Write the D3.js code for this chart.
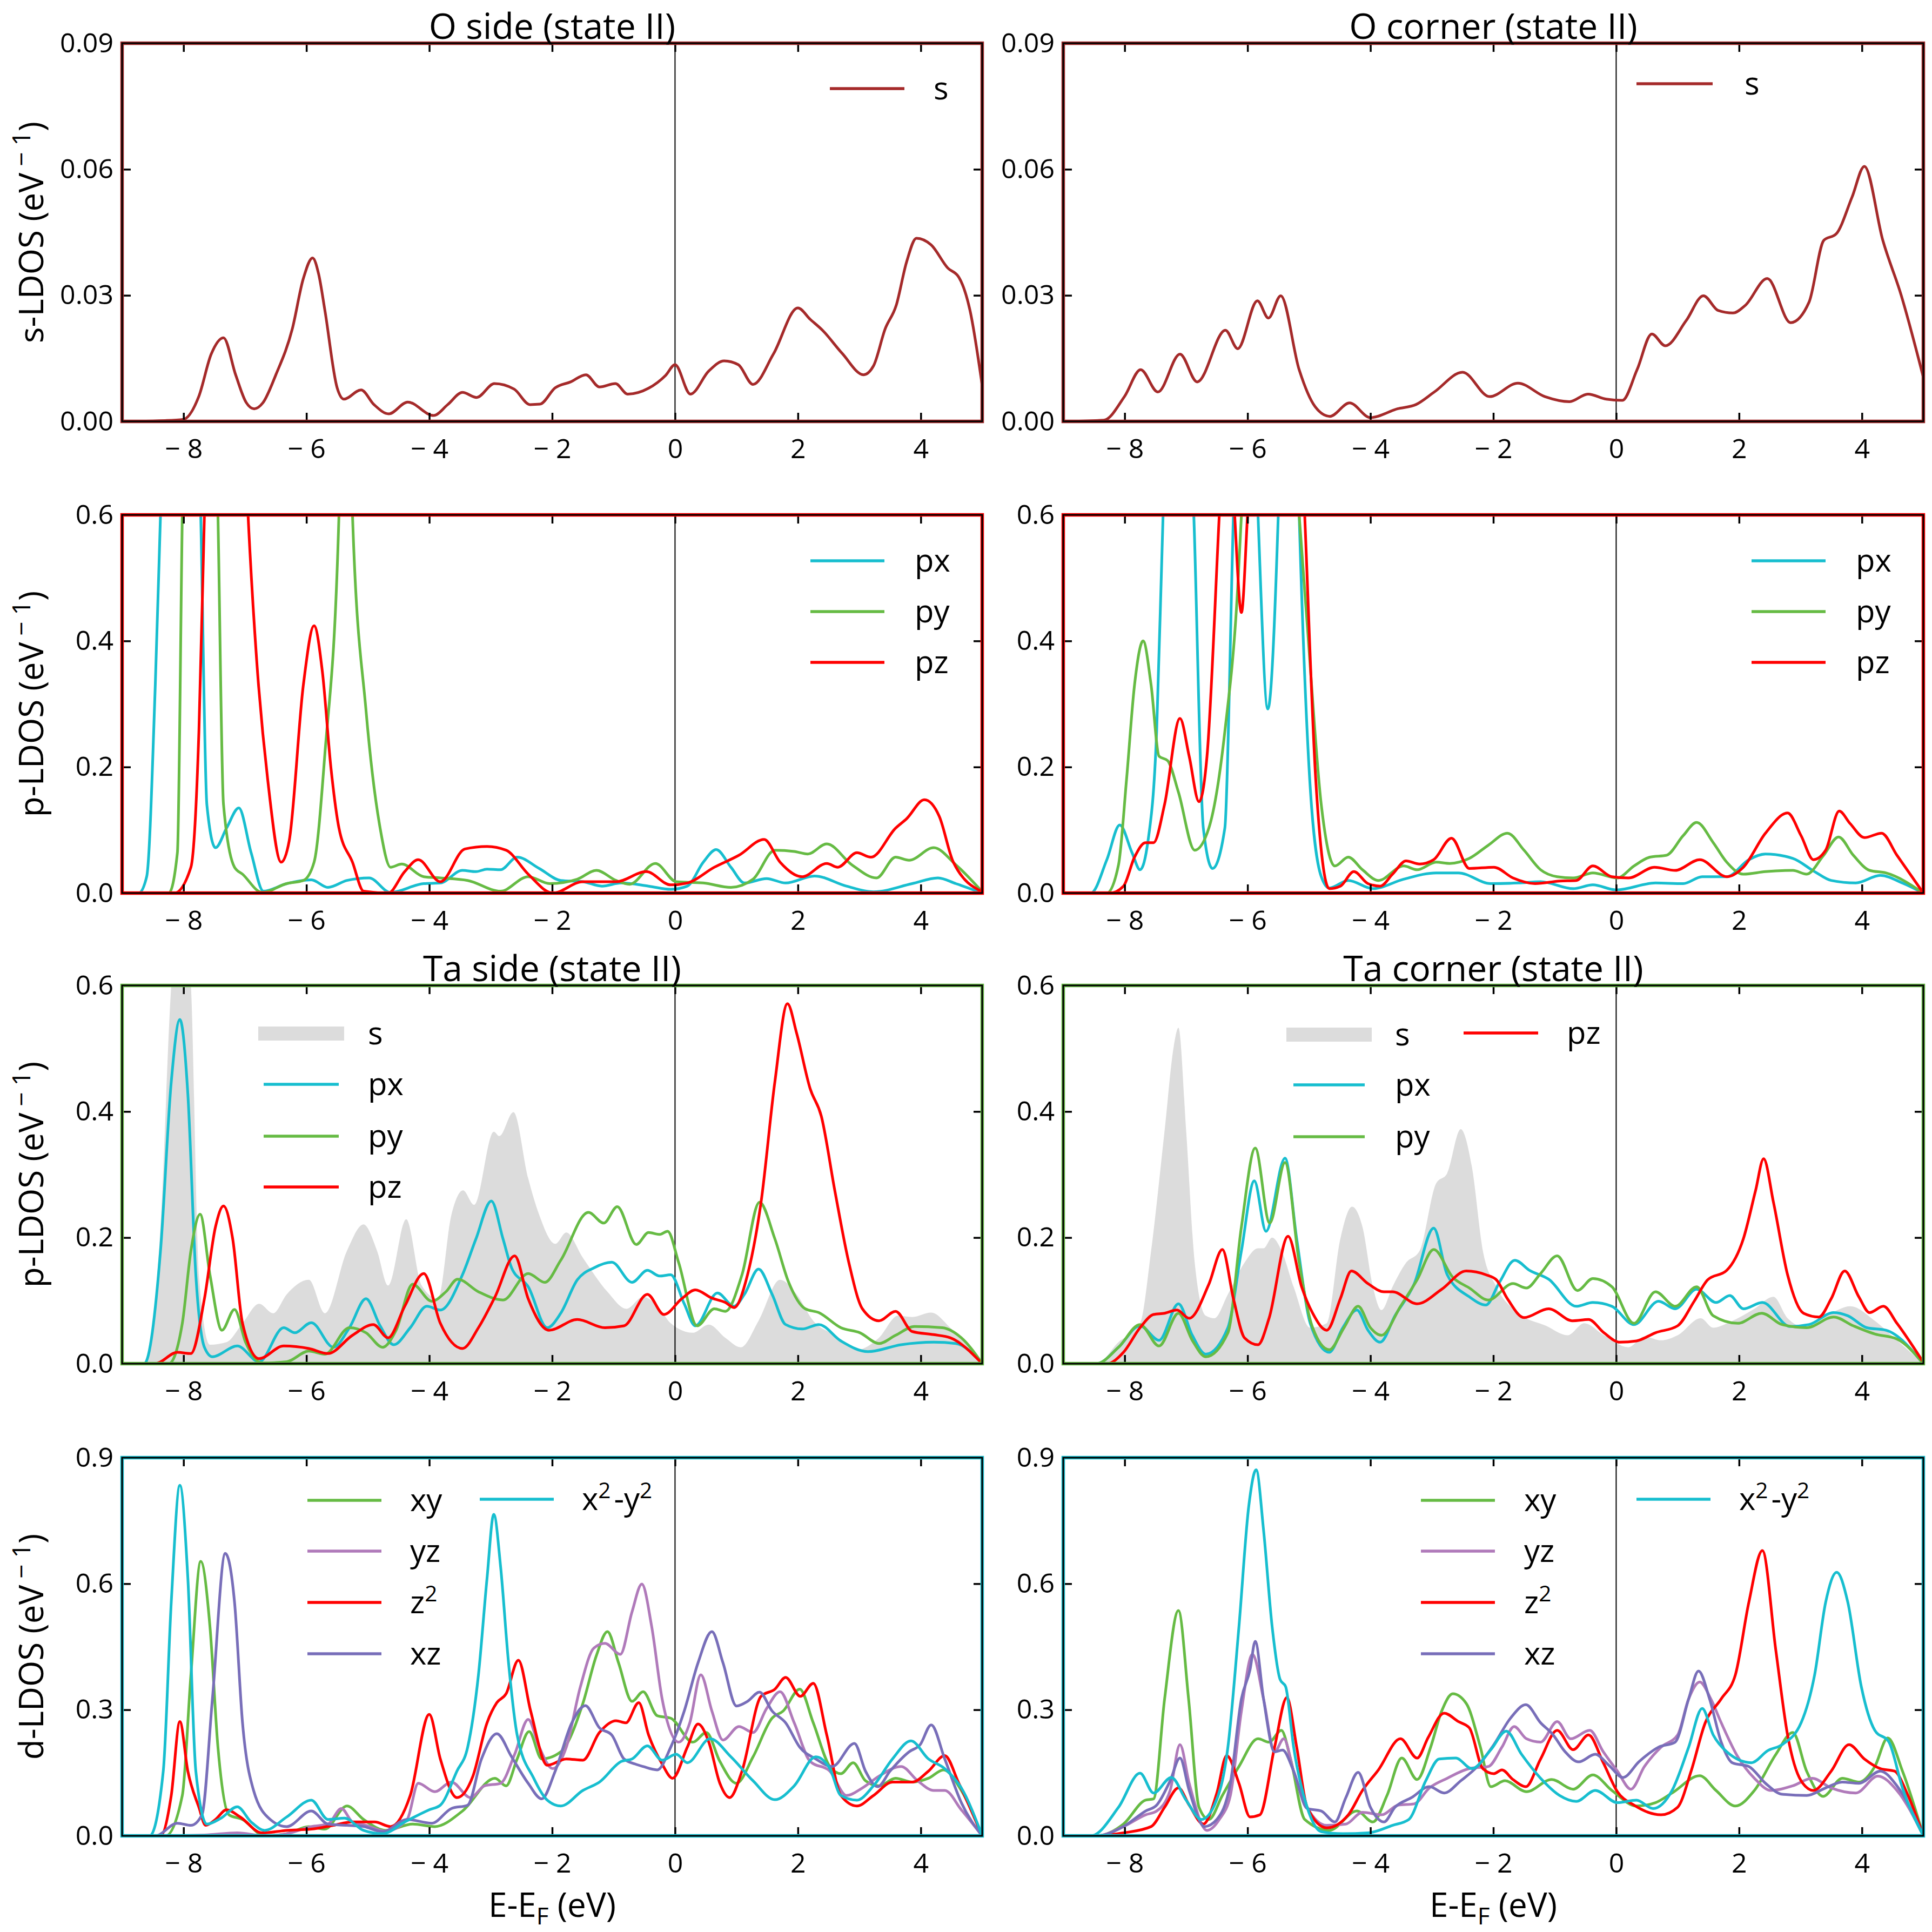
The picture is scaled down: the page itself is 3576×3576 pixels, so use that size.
<!DOCTYPE html>
<html>
<head>
<meta charset="utf-8">
<script src="https://cdn.jsdelivr.net/npm/d3@7"></script>
<style>
  body { margin: 0; background: #fff; }
  text { font-family: "Open Sans", "DejaVu Sans", sans-serif; fill: #000; }
</style>
</head>
<body>
<svg id="chart" width="3576" height="3576"></svg>
<script>
// ---- data: [energy (eV), LDOS] ----
const oSideS = [[-9,0],[-8.3,0.0002],[-8,0.0005],[-7.75,0.006],[-7.55,0.016],[-7.35,0.0199],[-7.15,0.011],[-6.98,0.0045],[-6.85,0.003],[-6.71,0.0044],[-6.5,0.011],[-6.23,0.022],[-6.05,0.034],[-5.9,0.0389],[-5.8,0.035],[-5.7,0.0265],[-5.5,0.008],[-5.39,0.0053],[-5.11,0.0075],[-4.9,0.004],[-4.66,0.0018],[-4.35,0.0046],[-3.93,0.0014],[-3.7,0.004],[-3.46,0.0069],[-3.23,0.0057],[-2.94,0.009],[-2.62,0.0077],[-2.36,0.004],[-2.2,0.0041],[-1.95,0.008],[-1.7,0.0094],[-1.45,0.0111],[-1.23,0.0082],[-0.97,0.009],[-0.77,0.0065],[-0.43,0.0079],[-0.15,0.011],[0,0.0135],[0.25,0.0065],[0.55,0.012],[0.8,0.0144],[1.03,0.0135],[1.27,0.0088],[1.6,0.016],[2.0,0.027],[2.2,0.0243],[2.4,0.0217],[2.72,0.0162],[3.07,0.0111],[3.23,0.0132],[3.42,0.022],[3.6,0.0276],[3.77,0.038],[3.93,0.0436],[4.17,0.042],[4.44,0.0365],[4.62,0.0343],[4.8,0.0265],[5,0.0085]];
const oCornerS = [[-9,0],[-8.34,0.0003],[-8.0,0.006],[-7.74,0.0123],[-7.46,0.007],[-7.1,0.016],[-6.82,0.0094],[-6.36,0.0217],[-6.16,0.0173],[-5.84,0.0287],[-5.66,0.0246],[-5.46,0.0299],[-5.16,0.0123],[-4.9,0.0035],[-4.66,0.0012],[-4.34,0.0044],[-4.0,0.0009],[-3.56,0.003],[-3.26,0.004],[-2.96,0.007],[-2.5,0.0117],[-2.06,0.0059],[-1.6,0.0091],[-1.16,0.0059],[-0.76,0.0047],[-0.46,0.0065],[-0.16,0.0053],[0.1,0.005],[0.34,0.0123],[0.58,0.0208],[0.8,0.018],[1.14,0.024],[1.42,0.0299],[1.66,0.0264],[1.9,0.0258],[2.1,0.0276],[2.46,0.034],[2.84,0.0235],[3.14,0.0284],[3.38,0.0431],[3.58,0.0446],[3.84,0.0534],[4.04,0.0607],[4.34,0.0431],[4.64,0.03],[5,0.0105]];

const oSidePx = [[-9,0],[-8.73,0],[-8.6,0.026],[-8.46,0.33],[-8.375,0.6],[-8.05,1.6],[-7.72,0.6],[-7.62,0.14],[-7.48,0.072],[-7.3,0.103],[-7.1,0.135],[-6.9,0.064],[-6.7,0.003],[-6.32,0.015],[-5.92,0.021],[-5.65,0.009],[-5.34,0.02],[-4.98,0.024],[-4.63,0.001],[-4.09,0.015],[-3.82,0.016],[-3.46,0.036],[-3.24,0.034],[-3.06,0.038],[-2.84,0.037],[-2.57,0.057],[-2.21,0.039],[-1.86,0.02],[-1.5,0.018],[-1.19,0.011],[-0.875,0.016],[-0.43,0.011],[-0.07,0.006],[0.2,0.011],[0.46,0.049],[0.67,0.069],[0.91,0.041],[1.13,0.016],[1.49,0.023],[1.8,0.016],[2.27,0.027],[2.79,0.011],[3.23,0.002],[3.86,0.015],[4.28,0.024],[4.57,0.015],[5,0]];
const oSidePy = [[-9,0],[-8.24,0],[-8.1,0.064],[-8.02,0.6],[-7.72,1.6],[-7.44,0.6],[-7.35,0.141],[-7.17,0.041],[-7.04,0.03],[-6.72,0.001],[-6.32,0.015],[-6.05,0.02],[-5.875,0.049],[-5.7,0.22],[-5.47,0.6],[-5.35,1.2],[-5.25,0.6],[-5.03,0.29],[-4.8,0.103],[-4.63,0.041],[-4.45,0.046],[-4.09,0.026],[-3.82,0.024],[-3.375,0.02],[-2.84,0.003],[-2.39,0.026],[-2.04,0.015],[-1.59,0.022],[-1.28,0.036],[-0.96,0.02],[-0.74,0.014],[-0.32,0.047],[0.02,0.018],[0.46,0.016],[0.91,0.009],[1.27,0.022],[1.625,0.068],[1.94,0.066],[2.16,0.062],[2.47,0.078],[2.875,0.045],[3.28,0.024],[3.59,0.057],[3.81,0.052],[4.21,0.072],[4.57,0.045],[5,0.002]];
const oSidePz = [[-9,0],[-8.15,0],[-7.88,0.041],[-7.75,0.256],[-7.66,0.6],[-7.3,1.6],[-6.95,0.6],[-6.81,0.37],[-6.63,0.18],[-6.41,0.049],[-6.28,0.083],[-6.05,0.33],[-5.875,0.424],[-5.74,0.351],[-5.6,0.198],[-5.47,0.103],[-5.25,0.049],[-5.07,0.003],[-4.67,0],[-4.4,0.034],[-4.18,0.053],[-3.82,0.018],[-3.42,0.07],[-3.06,0.074],[-2.75,0.068],[-2.39,0.03],[-1.99,0],[-1.5,0.018],[-0.96,0.018],[-0.47,0.034],[-0.07,0.013],[0.2,0.016],[0.64,0.041],[1.04,0.06],[1.45,0.085],[1.71,0.049],[2.07,0.026],[2.47,0.047],[2.65,0.041],[2.96,0.064],[3.19,0.057],[3.59,0.103],[3.77,0.118],[4.06,0.148],[4.3,0.122],[4.53,0.049],[5,0.002]];

const oCornerPx = [[-9,0],[-8.55,0],[-8.29,0.053],[-8.08,0.108],[-7.88,0.064],[-7.75,0.037],[-7.62,0.083],[-7.48,0.256],[-7.375,0.6],[-7.1,1.1],[-6.875,0.6],[-6.72,0.103],[-6.57,0.039],[-6.37,0.103],[-6.23,0.6],[-6.02,1.2],[-5.83,0.6],[-5.67,0.292],[-5.5,0.6],[-5.33,1.3],[-5.16,0.6],[-5.0,0.2],[-4.8,0.026],[-4.67,0.008],[-4.36,0.02],[-3.96,0.007],[-3.46,0.022],[-2.93,0.032],[-2.57,0.032],[-2.04,0.015],[-1.59,0.016],[-1.23,0.018],[-0.7,0.007],[-0.38,0.013],[0,0.005],[0.64,0.016],[1.09,0.015],[1.4,0.026],[1.8,0.026],[2.16,0.053],[2.43,0.062],[2.875,0.055],[3.23,0.034],[3.5,0.02],[3.9,0.016],[4.3,0.028],[4.66,0.016],[5,0]];
const oCornerPy = [[-9,0],[-8.29,0],[-8.1,0.045],[-7.97,0.18],[-7.84,0.33],[-7.7,0.4],[-7.57,0.33],[-7.44,0.217],[-7.3,0.21],[-7.125,0.16],[-6.86,0.068],[-6.63,0.103],[-6.37,0.256],[-6.16,0.485],[-6.1,0.6],[-5.65,1.5],[-5.16,0.6],[-5.03,0.428],[-4.8,0.14],[-4.58,0.043],[-4.36,0.057],[-4.13,0.037],[-3.87,0.02],[-3.46,0.043],[-3.24,0.037],[-2.93,0.049],[-2.71,0.047],[-2.39,0.055],[-2.08,0.076],[-1.77,0.095],[-1.5,0.068],[-1.23,0.037],[-0.96,0.026],[-0.7,0.024],[-0.38,0.032],[0.02,0.024],[0.29,0.043],[0.55,0.057],[0.82,0.06],[1.09,0.091],[1.31,0.112],[1.58,0.08],[1.8,0.049],[2.07,0.03],[2.43,0.034],[2.875,0.036],[3.1,0.03],[3.37,0.059],[3.62,0.089],[3.86,0.06],[4.125,0.036],[4.39,0.032],[5,0]];
const oCornerPz = [[-9,0],[-8.24,0],[-8.02,0.011],[-7.84,0.057],[-7.66,0.08],[-7.53,0.08],[-7.35,0.141],[-7.1,0.277],[-6.95,0.217],[-6.79,0.145],[-6.66,0.217],[-6.46,0.6],[-6.33,0.85],[-6.21,0.6],[-6.1,0.445],[-6.0,0.6],[-5.5,1.6],[-5.07,0.6],[-4.89,0.18],[-4.67,0.007],[-4.49,0.011],[-4.27,0.034],[-4.04,0.015],[-3.84,0.011],[-3.64,0.03],[-3.42,0.051],[-3.2,0.046],[-2.97,0.053],[-2.68,0.087],[-2.39,0.039],[-1.99,0.041],[-1.68,0.024],[-1.32,0.015],[-0.92,0.019],[-0.65,0.02],[-0.38,0.043],[-0.07,0.026],[0.2,0.024],[0.625,0.041],[0.96,0.036],[1.36,0.053],[1.8,0.026],[2.07,0.041],[2.43,0.095],[2.79,0.127],[3.01,0.091],[3.21,0.053],[3.41,0.068],[3.63,0.13],[3.81,0.11],[4.04,0.088],[4.32,0.095],[4.57,0.06],[5,0]];

const taSideS = [[-9,0],[-8.64,0],[-8.375,0.217],[-8.2,0.6],[-8.05,0.75],[-7.88,0.6],[-7.75,0.14],[-7.57,0.03],[-7.3,0.034],[-7.04,0.064],[-6.77,0.095],[-6.54,0.08],[-6.32,0.11],[-5.96,0.133],[-5.7,0.08],[-5.34,0.179],[-5.07,0.221],[-4.85,0.179],[-4.67,0.124],[-4.375,0.229],[-4.13,0.125],[-3.86,0.103],[-3.64,0.236],[-3.45,0.275],[-3.27,0.252],[-2.95,0.368],[-2.86,0.361],[-2.63,0.399],[-2.39,0.294],[-2.21,0.236],[-1.95,0.19],[-1.77,0.208],[-1.5,0.168],[-1.1,0.114],[-0.79,0.087],[-0.52,0.106],[-0.25,0.087],[-0.07,0.064],[0.29,0.049],[0.55,0.062],[0.82,0.041],[1.07,0.026],[1.36,0.068],[1.71,0.133],[1.98,0.11],[2.25,0.068],[2.6,0.045],[2.96,0.022],[3.32,0.041],[3.63,0.076],[3.86,0.074],[4.17,0.081],[4.48,0.057],[5,0]];
const taSidePx = [[-9,0],[-8.64,0],[-8.375,0.179],[-8.2,0.447],[-8.06,0.546],[-7.93,0.428],[-7.8,0.141],[-7.66,0.026],[-7.53,0.011],[-7.125,0.028],[-6.77,0.003],[-6.37,0.057],[-6.19,0.049],[-5.92,0.065],[-5.56,0.026],[-5.3,0.057],[-5.03,0.103],[-4.8,0.06],[-4.58,0.03],[-4.31,0.057],[-4.04,0.091],[-3.82,0.085],[-3.46,0.141],[-3.24,0.198],[-2.99,0.258],[-2.8,0.198],[-2.66,0.152],[-2.39,0.122],[-2.08,0.057],[-1.86,0.08],[-1.59,0.133],[-1.32,0.152],[-1.03,0.161],[-0.7,0.129],[-0.45,0.148],[-0.25,0.139],[-0.07,0.141],[0.15,0.095],[0.33,0.06],[0.69,0.112],[0.96,0.091],[1.13,0.11],[1.36,0.15],[1.58,0.11],[1.8,0.062],[2.07,0.055],[2.34,0.062],[2.7,0.036],[3.14,0.019],[3.68,0.03],[4.21,0.034],[4.57,0.032],[5,0]];
const taSidePy = [[-9,0],[-8.24,0],[-8.02,0.064],[-7.88,0.179],[-7.73,0.237],[-7.57,0.141],[-7.375,0.053],[-7.17,0.086],[-6.99,0.034],[-6.72,0.001],[-6.32,0.003],[-5.96,0.02],[-5.7,0.015],[-5.3,0.057],[-5.03,0.049],[-4.76,0.026],[-4.54,0.053],[-4.27,0.126],[-3.96,0.099],[-3.73,0.114],[-3.54,0.134],[-3.2,0.114],[-2.8,0.101],[-2.39,0.143],[-2.12,0.129],[-1.86,0.164],[-1.41,0.24],[-1.16,0.223],[-0.94,0.249],[-0.63,0.189],[-0.43,0.208],[-0.25,0.205],[-0.12,0.21],[0.06,0.16],[0.36,0.06],[0.64,0.087],[0.82,0.083],[1.09,0.141],[1.375,0.256],[1.625,0.198],[1.85,0.129],[2.12,0.087],[2.34,0.081],[2.7,0.057],[3.01,0.049],[3.32,0.032],[3.59,0.045],[3.9,0.059],[4.35,0.057],[4.66,0.041],[5,0]];
const taSidePz = [[-9,0],[-8.46,0],[-8.1,0.018],[-7.88,0.016],[-7.66,0.103],[-7.48,0.217],[-7.35,0.25],[-7.2,0.198],[-7.04,0.064],[-6.77,0.008],[-6.37,0.028],[-5.96,0.024],[-5.65,0.016],[-5.25,0.045],[-4.91,0.062],[-4.67,0.041],[-4.4,0.091],[-4.09,0.143],[-3.82,0.064],[-3.46,0.024],[-3.2,0.057],[-2.93,0.106],[-2.61,0.171],[-2.39,0.103],[-2.05,0.053],[-1.59,0.07],[-1.14,0.057],[-0.83,0.06],[-0.45,0.11],[-0.18,0.078],[0.11,0.103],[0.33,0.117],[0.6,0.104],[0.82,0.097],[0.96,0.089],[1.18,0.141],[1.4,0.256],[1.625,0.447],[1.83,0.571],[1.98,0.524],[2.2,0.436],[2.38,0.393],[2.6,0.275],[2.83,0.16],[3.05,0.087],[3.32,0.068],[3.59,0.083],[3.86,0.051],[4.21,0.046],[4.48,0.041],[5,0]];

const taCornerS = [[-9,0],[-8.46,0],[-8.1,0.034],[-7.75,0.064],[-7.57,0.179],[-7.35,0.37],[-7.2,0.504],[-7.125,0.533],[-7.0,0.37],[-6.86,0.16],[-6.68,0.076],[-6.54,0.072],[-6.32,0.11],[-6.05,0.16],[-5.83,0.183],[-5.74,0.183],[-5.6,0.2],[-5.45,0.18],[-5.25,0.122],[-4.98,0.057],[-4.71,0.064],[-4.49,0.198],[-4.3,0.249],[-4.13,0.217],[-3.96,0.122],[-3.82,0.085],[-3.64,0.122],[-3.42,0.16],[-3.2,0.179],[-2.93,0.286],[-2.75,0.302],[-2.53,0.372],[-2.35,0.313],[-2.17,0.179],[-1.95,0.122],[-1.59,0.08],[-1.14,0.06],[-0.79,0.045],[-0.52,0.064],[-0.2,0.045],[0.2,0.026],[0.46,0.043],[0.73,0.037],[1.0,0.045],[1.375,0.072],[1.58,0.057],[1.85,0.066],[2.25,0.087],[2.56,0.106],[2.79,0.072],[3.1,0.057],[3.5,0.08],[3.81,0.091],[4.21,0.068],[4.57,0.037],[5,0]];
const taCornerPx = [[-9,0],[-8.46,0],[-8.1,0.026],[-7.75,0.06],[-7.44,0.037],[-7.125,0.095],[-6.9,0.045],[-6.68,0.015],[-6.32,0.057],[-6.1,0.179],[-5.89,0.29],[-5.7,0.21],[-5.39,0.326],[-5.2,0.198],[-4.98,0.064],[-4.67,0.018],[-4.45,0.057],[-4.22,0.085],[-4.04,0.053],[-3.84,0.034],[-3.6,0.076],[-3.29,0.126],[-2.97,0.215],[-2.75,0.141],[-2.39,0.106],[-2.12,0.093],[-1.9,0.129],[-1.65,0.164],[-1.41,0.148],[-1.1,0.134],[-0.65,0.091],[-0.38,0.097],[-0.07,0.091],[0.29,0.062],[0.69,0.099],[0.96,0.087],[1.31,0.118],[1.625,0.097],[1.85,0.108],[2.07,0.087],[2.38,0.097],[2.83,0.059],[3.14,0.062],[3.54,0.081],[3.77,0.076],[4.08,0.057],[4.39,0.053],[5,0]];
const taCornerPy = [[-9,0],[-8.46,0],[-8.1,0.026],[-7.75,0.062],[-7.44,0.028],[-7.125,0.08],[-6.9,0.037],[-6.68,0.011],[-6.32,0.049],[-6.1,0.217],[-5.875,0.342],[-5.64,0.223],[-5.39,0.319],[-5.16,0.16],[-4.94,0.057],[-4.67,0.022],[-4.43,0.057],[-4.2,0.091],[-4.0,0.057],[-3.82,0.045],[-3.51,0.091],[-3.24,0.133],[-2.97,0.181],[-2.66,0.137],[-2.39,0.12],[-2.08,0.101],[-1.68,0.127],[-1.46,0.12],[-1.23,0.143],[-0.96,0.171],[-0.63,0.116],[-0.38,0.135],[-0.07,0.122],[0.29,0.064],[0.64,0.114],[0.96,0.091],[1.31,0.122],[1.58,0.076],[1.98,0.064],[2.37,0.08],[2.7,0.062],[3.1,0.057],[3.54,0.074],[3.86,0.06],[4.21,0.047],[4.57,0.039],[5,0]];
const taCornerPz = [[-9,0],[-8.29,0],[-8.02,0.018],[-7.75,0.057],[-7.53,0.078],[-7.35,0.08],[-7.15,0.085],[-6.95,0.072],[-6.63,0.126],[-6.41,0.181],[-6.23,0.103],[-6.05,0.041],[-5.83,0.03],[-5.65,0.072],[-5.34,0.202],[-5.12,0.122],[-4.94,0.08],[-4.71,0.053],[-4.49,0.103],[-4.31,0.147],[-4.04,0.127],[-3.78,0.114],[-3.64,0.114],[-3.24,0.095],[-2.84,0.118],[-2.44,0.147],[-2.12,0.141],[-1.95,0.133],[-1.77,0.103],[-1.5,0.073],[-1.1,0.087],[-0.71,0.068],[-0.45,0.07],[-0.2,0.049],[0.06,0.034],[0.33,0.036],[0.64,0.049],[1.0,0.06],[1.27,0.099],[1.49,0.133],[1.8,0.148],[2.07,0.198],[2.27,0.275],[2.4,0.325],[2.56,0.256],[2.79,0.141],[3.05,0.08],[3.3,0.074],[3.5,0.103],[3.72,0.147],[3.95,0.106],[4.125,0.081],[4.35,0.091],[4.57,0.064],[5,0.002]];

const taSideXy = [[-9,0],[-8.29,0],[-8.02,0.096],[-7.88,0.383],[-7.72,0.653],[-7.57,0.498],[-7.44,0.211],[-7.26,0.05],[-7.04,0.039],[-6.68,0],[-6.32,0.005],[-5.96,0.022],[-5.7,0.016],[-5.34,0.071],[-5.07,0.039],[-4.71,0.013],[-4.27,0.028],[-3.91,0.022],[-3.46,0.059],[-2.93,0.137],[-2.75,0.119],[-2.57,0.183],[-2.375,0.248],[-2.17,0.183],[-1.86,0.2],[-1.5,0.315],[-1.28,0.429],[-1.1,0.486],[-0.92,0.412],[-0.7,0.32],[-0.52,0.343],[-0.29,0.286],[-0.07,0.28],[0.29,0.223],[0.51,0.246],[0.73,0.177],[1.0,0.125],[1.27,0.188],[1.58,0.28],[1.76,0.297],[2.03,0.349],[2.25,0.269],[2.52,0.165],[2.7,0.148],[2.9,0.174],[3.1,0.131],[3.32,0.119],[3.59,0.137],[3.86,0.128],[4.125,0.137],[4.37,0.157],[4.66,0.108],[5,0]];
const taSideYz = [[-9,0],[-8.46,0],[-7.66,0.002],[-7.125,0.007],[-6.68,0],[-6.32,0.005],[-5.92,0.022],[-5.65,0.028],[-5.43,0.065],[-5.25,0.033],[-5.03,0.025],[-4.71,0.011],[-4.36,0.039],[-4.18,0.125],[-3.91,0.105],[-3.64,0.128],[-3.33,0.091],[-3.1,0.119],[-2.84,0.125],[-2.61,0.194],[-2.39,0.277],[-2.21,0.211],[-1.99,0.16],[-1.77,0.211],[-1.54,0.355],[-1.32,0.447],[-1.14,0.458],[-0.89,0.432],[-0.7,0.533],[-0.54,0.599],[-0.38,0.498],[-0.21,0.326],[0.06,0.223],[0.24,0.269],[0.42,0.383],[0.6,0.297],[0.78,0.228],[1.04,0.26],[1.27,0.246],[1.49,0.303],[1.71,0.343],[1.94,0.269],[2.2,0.177],[2.52,0.154],[2.79,0.096],[3.05,0.114],[3.32,0.142],[3.68,0.165],[3.95,0.131],[4.21,0.108],[4.39,0.108],[4.66,0.062],[5,0]];
const taSideZ2 = [[-9,0],[-8.375,0],[-8.2,0.096],[-8.06,0.272],[-7.93,0.154],[-7.75,0.068],[-7.64,0.025],[-7.48,0.039],[-7.3,0.062],[-7.08,0.045],[-6.72,0.007],[-6.32,0.013],[-5.92,0.016],[-5.56,0.025],[-5.25,0.033],[-4.89,0.033],[-4.63,0.022],[-4.31,0.096],[-4.0,0.289],[-3.82,0.183],[-3.55,0.091],[-3.29,0.142],[-3.06,0.269],[-2.9,0.317],[-2.75,0.338],[-2.55,0.418],[-2.35,0.297],[-2.08,0.168],[-1.77,0.183],[-1.5,0.18],[-1.23,0.246],[-0.96,0.274],[-0.8,0.269],[-0.59,0.317],[-0.43,0.24],[-0.21,0.171],[-0.04,0.137],[0.2,0.211],[0.375,0.266],[0.55,0.223],[0.73,0.125],[0.89,0.091],[1.09,0.154],[1.4,0.332],[1.625,0.349],[1.8,0.377],[2.04,0.332],[2.25,0.363],[2.47,0.24],[2.7,0.096],[2.96,0.071],[3.23,0.096],[3.54,0.128],[3.86,0.128],[4.125,0.154],[4.39,0.191],[4.62,0.125],[5,0]];
const taSideXz = [[-9,0],[-8.46,0],[-8.1,0.03],[-7.88,0.025],[-7.7,0.05],[-7.53,0.326],[-7.32,0.672],[-7.17,0.556],[-7.04,0.269],[-6.86,0.108],[-6.59,0.039],[-6.32,0.022],[-5.92,0.059],[-5.65,0.028],[-5.34,0.025],[-5.07,0.022],[-4.76,0.01],[-4.36,0.039],[-3.96,0.03],[-3.64,0.065],[-3.375,0.073],[-3.15,0.183],[-2.9,0.243],[-2.66,0.188],[-2.39,0.125],[-2.17,0.088],[-1.95,0.154],[-1.68,0.269],[-1.46,0.31],[-1.23,0.257],[-1.03,0.24],[-0.83,0.183],[-0.65,0.171],[-0.52,0.165],[-0.29,0.157],[-0.07,0.211],[0.15,0.297],[0.375,0.412],[0.6,0.486],[0.78,0.412],[1.0,0.309],[1.18,0.32],[1.375,0.342],[1.58,0.297],[1.8,0.269],[2.03,0.211],[2.29,0.183],[2.56,0.165],[2.92,0.22],[3.1,0.154],[3.3,0.117],[3.5,0.154],[3.81,0.2],[3.99,0.217],[4.17,0.264],[4.39,0.183],[4.66,0.079],[5,0]];
const taSideX2y2 = [[-9,0],[-8.55,0],[-8.33,0.154],[-8.2,0.556],[-8.06,0.834],[-7.93,0.614],[-7.8,0.154],[-7.62,0.028],[-7.39,0.042],[-7.125,0.069],[-6.9,0.033],[-6.68,0.013],[-6.32,0.045],[-5.92,0.085],[-5.65,0.039],[-5.38,0.042],[-5.07,0.013],[-4.76,0.005],[-4.4,0.033],[-4.0,0.062],[-3.82,0.073],[-3.55,0.154],[-3.375,0.211],[-3.2,0.383],[-3.06,0.613],[-2.95,0.765],[-2.84,0.642],[-2.71,0.412],[-2.57,0.24],[-2.3,0.137],[-2.08,0.085],[-1.86,0.071],[-1.5,0.108],[-1.23,0.128],[-0.875,0.177],[-0.7,0.183],[-0.45,0.214],[-0.21,0.18],[0.02,0.194],[0.2,0.174],[0.57,0.231],[0.91,0.188],[1.27,0.131],[1.625,0.086],[1.94,0.119],[2.29,0.188],[2.52,0.16],[2.7,0.096],[2.96,0.085],[3.23,0.119],[3.54,0.183],[3.84,0.226],[4.125,0.183],[4.39,0.16],[4.66,0.114],[5,0]];

const taCornerXy = [[-9,0],[-8.46,0],[-8.02,0.028],[-7.66,0.085],[-7.53,0.088],[-7.35,0.326],[-7.125,0.536],[-6.96,0.326],[-6.79,0.068],[-6.63,0.039],[-6.41,0.096],[-6.14,0.165],[-5.83,0.231],[-5.65,0.223],[-5.45,0.251],[-5.3,0.183],[-5.07,0.039],[-4.67,0.013],[-4.22,0.059],[-3.96,0.033],[-3.73,0.096],[-3.49,0.185],[-3.24,0.134],[-3.02,0.211],[-2.84,0.297],[-2.66,0.338],[-2.44,0.315],[-2.21,0.211],[-2.04,0.117],[-1.81,0.131],[-1.46,0.105],[-1.05,0.134],[-0.7,0.111],[-0.38,0.145],[-0.07,0.108],[0.33,0.071],[0.64,0.079],[0.91,0.102],[1.36,0.143],[1.625,0.108],[1.94,0.071],[2.25,0.108],[2.6,0.194],[2.875,0.246],[3.1,0.154],[3.37,0.094],[3.68,0.137],[3.95,0.128],[4.21,0.165],[4.42,0.233],[4.66,0.154],[5,0]];
const taCornerYz = [[-9,0],[-8.46,0],[-8.02,0.022],[-7.66,0.05],[-7.48,0.059],[-7.26,0.108],[-7.1,0.217],[-6.95,0.125],[-6.66,0.013],[-6.46,0.039],[-6.28,0.096],[-6.1,0.297],[-5.92,0.432],[-5.74,0.326],[-5.56,0.2],[-5.41,0.231],[-5.25,0.154],[-5.03,0.068],[-4.71,0.025],[-4.4,0.028],[-4.13,0.056],[-3.82,0.05],[-3.55,0.073],[-3.29,0.076],[-3.04,0.114],[-2.75,0.137],[-2.39,0.16],[-2.08,0.165],[-1.86,0.211],[-1.66,0.26],[-1.46,0.231],[-1.23,0.223],[-0.96,0.272],[-0.74,0.231],[-0.43,0.251],[-0.21,0.2],[0.02,0.154],[0.24,0.111],[0.46,0.165],[0.73,0.211],[1.0,0.24],[1.18,0.326],[1.36,0.366],[1.54,0.326],[1.71,0.269],[1.98,0.188],[2.25,0.137],[2.52,0.108],[2.875,0.119],[3.19,0.137],[3.5,0.114],[3.9,0.102],[4.26,0.142],[4.57,0.108],[5,0]];
const taCornerZ2 = [[-9,0],[-8.46,0],[-8.02,0.007],[-7.57,0.022],[-7.35,0.068],[-7.125,0.114],[-6.95,0.073],[-6.72,0.028],[-6.5,0.102],[-6.34,0.191],[-6.14,0.125],[-5.96,0.045],[-5.8,0.05],[-5.56,0.211],[-5.36,0.329],[-5.2,0.211],[-5.03,0.068],[-4.71,0.019],[-4.36,0.05],[-4.13,0.108],[-3.87,0.157],[-3.51,0.231],[-3.24,0.185],[-3.06,0.234],[-2.8,0.292],[-2.57,0.272],[-2.39,0.257],[-2.17,0.16],[-1.99,0.148],[-1.86,0.157],[-1.68,0.134],[-1.47,0.117],[-1.23,0.183],[-0.96,0.251],[-0.7,0.205],[-0.45,0.24],[-0.21,0.174],[0.02,0.105],[0.29,0.073],[0.73,0.05],[1.0,0.068],[1.22,0.154],[1.45,0.269],[1.71,0.326],[1.94,0.383],[2.16,0.556],[2.38,0.679],[2.6,0.44],[2.79,0.24],[3.01,0.131],[3.21,0.108],[3.5,0.154],[3.79,0.217],[4.04,0.183],[4.3,0.16],[4.53,0.154],[4.75,0.096],[5,0]];
const taCornerXz = [[-9,0],[-8.46,0],[-8.02,0.022],[-7.66,0.059],[-7.48,0.073],[-7.26,0.131],[-7.1,0.185],[-6.95,0.108],[-6.7,0.022],[-6.5,0.039],[-6.28,0.125],[-6.1,0.326],[-5.96,0.395],[-5.875,0.463],[-5.74,0.326],[-5.56,0.2],[-5.43,0.204],[-5.25,0.154],[-5.03,0.065],[-4.8,0.059],[-4.58,0.033],[-4.4,0.091],[-4.2,0.151],[-4.0,0.068],[-3.78,0.033],[-3.6,0.068],[-3.33,0.091],[-3.04,0.117],[-2.8,0.102],[-2.53,0.131],[-2.26,0.165],[-1.99,0.217],[-1.72,0.28],[-1.47,0.312],[-1.23,0.269],[-1.03,0.241],[-0.83,0.2],[-0.61,0.176],[-0.34,0.194],[-0.12,0.168],[0.11,0.139],[0.375,0.177],[0.69,0.211],[0.96,0.223],[1.18,0.326],[1.34,0.392],[1.52,0.326],[1.71,0.223],[1.89,0.174],[2.16,0.165],[2.43,0.125],[2.7,0.099],[3.1,0.096],[3.41,0.114],[3.68,0.128],[3.95,0.125],[4.3,0.154],[4.57,0.119],[5,0]];
const taCornerX2y2 = [[-9,0],[-8.55,0],[-8.1,0.068],[-7.75,0.149],[-7.53,0.102],[-7.24,0.139],[-7.0,0.085],[-6.75,0.039],[-6.54,0.073],[-6.32,0.211],[-6.14,0.498],[-5.98,0.785],[-5.86,0.871],[-5.74,0.728],[-5.6,0.498],[-5.47,0.372],[-5.38,0.355],[-5.25,0.211],[-5.03,0.068],[-4.8,0.01],[-4.45,0.005],[-4.04,0.007],[-3.64,0.025],[-3.375,0.039],[-3.1,0.131],[-2.88,0.183],[-2.61,0.185],[-2.35,0.16],[-2.04,0.205],[-1.79,0.249],[-1.54,0.194],[-1.23,0.137],[-0.92,0.096],[-0.65,0.082],[-0.34,0.108],[0.02,0.079],[0.33,0.085],[0.6,0.065],[0.91,0.108],[1.18,0.211],[1.4,0.303],[1.58,0.24],[1.8,0.2],[2.2,0.174],[2.47,0.203],[2.7,0.217],[3.01,0.269],[3.23,0.383],[3.41,0.556],[3.59,0.627],[3.77,0.556],[3.99,0.355],[4.21,0.251],[4.44,0.223],[4.66,0.114],[5,0]];

// ---- styling ----
const cBrown = "#a52a2a", cCyan = "#17becf", cGreen = "#66bb44", cRed = "#ff0000",
      cYz = "#b07aba", cXz = "#786eb9", cGrey = "#dcdcdc";
const rowFrame = ["#a52a2a", "#ff0000", "#66bb44", "#17becf"];

const colX = [226, 1968], rowY = [80, 953, 1824, 2698];
const PW = 1592, PH = 700;

const panels = [
  { col: 0, row: 0, ymax: 0.09, yticks: [0, 0.03, 0.06, 0.09], fmt: ".2f", ylabel: "s-LDOS", title: "O side (state II)",
    lines: [{ name: "s", data: oSideS, color: cBrown }],
    legend: [{ key: "s", x1: 1310, x2: 1448, tx: 1502, y: 84 }] },
  { col: 1, row: 0, ymax: 0.09, yticks: [0, 0.03, 0.06, 0.09], fmt: ".2f", title: "O corner (state II)",
    lines: [{ name: "s", data: oCornerS, color: cBrown }],
    legend: [{ key: "s", x1: 1061, x2: 1202, tx: 1261, y: 75 }] },
  { col: 0, row: 1, ymax: 0.6, yticks: [0, 0.2, 0.4, 0.6], fmt: ".1f", ylabel: "p-LDOS",
    lines: [{ name: "px", data: oSidePx, color: cCyan }, { name: "py", data: oSidePy, color: cGreen }, { name: "pz", data: oSidePz, color: cRed }],
    legend: [{ key: "px", x1: 1274, x2: 1411, tx: 1467, y: 85 }, { key: "py", x1: 1274, x2: 1411, tx: 1467, y: 179 }, { key: "pz", x1: 1274, x2: 1411, tx: 1467, y: 273 }] },
  { col: 1, row: 1, ymax: 0.6, yticks: [0, 0.2, 0.4, 0.6], fmt: ".1f",
    lines: [{ name: "px", data: oCornerPx, color: cCyan }, { name: "py", data: oCornerPy, color: cGreen }, { name: "pz", data: oCornerPz, color: cRed }],
    legend: [{ key: "px", x1: 1274, x2: 1411, tx: 1467, y: 85 }, { key: "py", x1: 1274, x2: 1411, tx: 1467, y: 179 }, { key: "pz", x1: 1274, x2: 1411, tx: 1467, y: 273 }] },
  { col: 0, row: 2, ymax: 0.6, yticks: [0, 0.2, 0.4, 0.6], fmt: ".1f", ylabel: "p-LDOS", title: "Ta side (state II)",
    fill: { name: "s", data: taSideS, color: cGrey },
    lines: [{ name: "px", data: taSidePx, color: cCyan }, { name: "py", data: taSidePy, color: cGreen }, { name: "pz", data: taSidePz, color: cRed }],
    legend: [{ key: "s", fill: true, x1: 252, x2: 411, tx: 455, y: 89 }, { key: "px", x1: 262, x2: 401, tx: 455, y: 183 }, { key: "py", x1: 262, x2: 401, tx: 455, y: 279 }, { key: "pz", x1: 262, x2: 401, tx: 455, y: 373 }] },
  { col: 1, row: 2, ymax: 0.6, yticks: [0, 0.2, 0.4, 0.6], fmt: ".1f", title: "Ta corner (state II)",
    fill: { name: "s", data: taCornerS, color: cGrey },
    lines: [{ name: "px", data: taCornerPx, color: cCyan }, { name: "py", data: taCornerPy, color: cGreen }, { name: "pz", data: taCornerPz, color: cRed }],
    legend: [{ key: "s", fill: true, x1: 413, x2: 571, tx: 614, y: 91 }, { key: "px", x1: 426, x2: 558, tx: 614, y: 184 }, { key: "py", x1: 426, x2: 558, tx: 614, y: 280 }, { key: "pz", x1: 741, x2: 879, tx: 932, y: 88 }] },
  { col: 0, row: 3, ymax: 0.9, yticks: [0, 0.3, 0.6, 0.9], fmt: ".1f", ylabel: "d-LDOS", xlabel: true,
    lines: [{ name: "xy", data: taSideXy, color: cGreen }, { name: "yz", data: taSideYz, color: cYz }, { name: "z^2", data: taSideZ2, color: cRed }, { name: "xz", data: taSideXz, color: cXz }, { name: "x^2-y^2", data: taSideX2y2, color: cCyan }],
    legend: [{ key: "xy", x1: 343, x2: 480, tx: 533, y: 79 }, { key: "yz", x1: 343, x2: 480, tx: 533, y: 173 }, { key: "z^2", x1: 343, x2: 480, tx: 533, y: 268 }, { key: "xz", x1: 343, x2: 480, tx: 533, y: 363 }, { key: "x^2-y^2", x1: 662, x2: 799, tx: 851, y: 77 }] },
  { col: 1, row: 3, ymax: 0.9, yticks: [0, 0.3, 0.6, 0.9], fmt: ".1f", xlabel: true,
    lines: [{ name: "xy", data: taCornerXy, color: cGreen }, { name: "yz", data: taCornerYz, color: cYz }, { name: "z^2", data: taCornerZ2, color: cRed }, { name: "xz", data: taCornerXz, color: cXz }, { name: "x^2-y^2", data: taCornerX2y2, color: cCyan }],
    legend: [{ key: "xy", x1: 662, x2: 799, tx: 853, y: 79 }, { key: "yz", x1: 662, x2: 799, tx: 853, y: 173 }, { key: "z^2", x1: 662, x2: 799, tx: 853, y: 268 }, { key: "xz", x1: 662, x2: 799, tx: 853, y: 363 }, { key: "x^2-y^2", x1: 1061, x2: 1198, tx: 1251, y: 77 }] }
];

const xTicks = [-8, -6, -4, -2, 0, 2, 4];
const svg = d3.select("#chart");

// text with ^x superscripts
function richText(sel, str, size) {
  const parts = str.split(/(\^\S)/).filter(s => s.length);
  parts.forEach(p => {
    if (p[0] === "^") {
      sel.append("tspan").attr("dy", -size * 0.38).attr("font-size", size * 0.7).text(p.slice(1));
      sel.append("tspan").attr("dy", size * 0.38).attr("font-size", size).text("\u200a");
    } else {
      sel.append("tspan").attr("font-size", size).text(p);
    }
  });
}

panels.forEach((p, i) => {
  const x0 = colX[p.col], y0 = rowY[p.row];
  const g = svg.append("g").attr("transform", `translate(${x0},${y0})`);
  const x = d3.scaleLinear().domain([-9, 5]).range([0, PW]);
  const y = d3.scaleLinear().domain([0, p.ymax]).range([PH, 0]);

  const clipId = "clip" + i;
  g.append("clipPath").attr("id", clipId).append("rect").attr("width", PW).attr("height", PH);
  const plot = g.append("g").attr("clip-path", `url(#${clipId})`);

  if (p.fill) {
    const area = d3.area().x(d => x(d[0])).y0(y(0)).y1(d => y(d[1])).curve(d3.curveMonotoneX);
    plot.append("path").datum(p.fill.data).attr("d", area).attr("fill", p.fill.color);
  }

  plot.append("line").attr("x1", x(0)).attr("x2", x(0)).attr("y1", 0).attr("y2", PH)
    .attr("stroke", "#000").attr("stroke-width", 2);

  const line = d3.line().x(d => x(d[0])).y(d => y(d[1])).curve(d3.curveMonotoneX);
  p.lines.forEach(s => {
    plot.append("path").datum(s.data).attr("d", line)
      .attr("fill", "none").attr("stroke", s.color).attr("stroke-width", 5).attr("stroke-linejoin", "round");
  });

  // axes with inward ticks on all sides
  const fx = d => d < 0 ? "\u2212 " + Math.abs(d) : String(d);
  const axB = g.append("g").attr("transform", `translate(0,${PH})`)
    .call(d3.axisBottom(x).tickValues(xTicks).tickFormat(fx).tickSizeInner(-16).tickSizeOuter(0).tickPadding(32));
  const axT = g.append("g").call(d3.axisTop(x).tickValues(xTicks).tickFormat("").tickSizeInner(-16).tickSizeOuter(0));
  const axL = g.append("g").call(d3.axisLeft(y).tickValues(p.yticks).tickFormat(d3.format(p.fmt)).tickSizeInner(-16).tickSizeOuter(0).tickPadding(16));
  const axR = g.append("g").attr("transform", `translate(${PW},0)`)
    .call(d3.axisRight(y).tickValues(p.yticks).tickFormat("").tickSizeInner(-16).tickSizeOuter(0));
  [axB, axT, axL, axR].forEach(a => {
    a.select(".domain").remove();
    a.selectAll(".tick line").attr("stroke", "#000").attr("stroke-width", 3.5);
    a.selectAll("text").attr("font-size", 50).attr("font-family", "Open Sans").attr("fill", "#000");
  });

  // frame: coloured edge with black core
  g.append("rect").attr("width", PW).attr("height", PH).attr("fill", "none")
    .attr("stroke", rowFrame[p.row]).attr("stroke-width", 6.5);
  g.append("rect").attr("width", PW).attr("height", PH).attr("fill", "none")
    .attr("stroke", "#000").attr("stroke-width", 3);

  // legend
  const lg = g.append("g");
  p.legend.forEach(item => {
    const s = item.fill ? p.fill : p.lines.find(l => l.name === item.key);
    if (item.fill) {
      lg.append("rect").attr("x", item.x1).attr("y", item.y - 13).attr("width", item.x2 - item.x1).attr("height", 26).attr("fill", s.color);
    } else {
      lg.append("line").attr("x1", item.x1).attr("x2", item.x2).attr("y1", item.y).attr("y2", item.y)
        .attr("stroke", s.color).attr("stroke-width", 5.5);
    }
    const t = lg.append("text").attr("x", item.tx).attr("y", item.y + 20);
    richText(t, item.key, 58);
  });

  if (p.title) {
    g.append("text").attr("x", PW / 2).attr("y", -8).attr("text-anchor", "middle")
      .attr("font-size", 66).text(p.title);
  }
  if (p.ylabel) {
    const t = g.append("text").attr("transform", `translate(-146,${PH / 2}) rotate(-90)`)
      .attr("text-anchor", "middle").attr("font-size", 62);
    t.append("tspan").text(p.ylabel + " (eV");
    t.append("tspan").attr("dy", -24).attr("font-size", 46).text(" \u2212 1");
    t.append("tspan").attr("dy", 24).text(")");
  }
  if (p.xlabel) {
    const t = g.append("text").attr("x", PW / 2).attr("y", PH + 150).attr("text-anchor", "middle").attr("font-size", 62);
    t.append("tspan").text("E-E");
    t.append("tspan").attr("dy", 14).attr("font-size", 44).text("F");
    t.append("tspan").attr("dy", -14).text(" (eV)");
  }
});
</script>
</body>
</html>
